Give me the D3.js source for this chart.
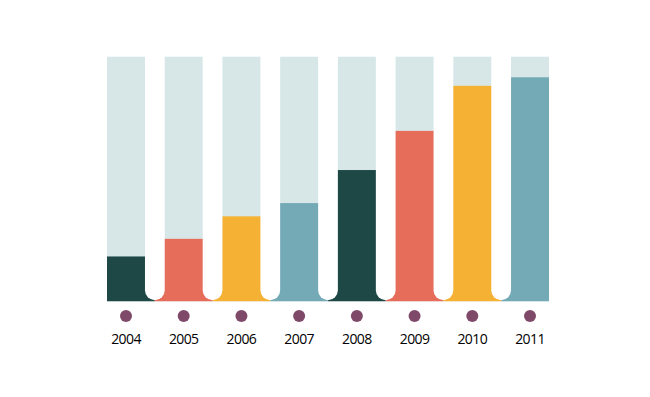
<!DOCTYPE html>
<html>
<head>
<meta charset="utf-8">
<script src="https://cdn.jsdelivr.net/npm/d3@7"></script>
<style>
  body { margin: 0; background: #fff; }
</style>
</head>
<body>
<div id="chart-div"></div>
<script>
// data (share of full column, 0-100)
const years = ["2004", "2005", "2006", "2007", "2008", "2009", "2010", "2011"];
const values = [18.4, 25.6, 34.8, 40.2, 53.7, 69.7, 88.1, 91.6];
const colors = ["#1e4846", "#e76d5b", "#f5b134", "#74aab6", "#1e4846", "#e76d5b", "#f5b134", "#74aab6"];

const width = 650;
const height = 397;
const plotLeft = 107, plotRight = 549;
const baseY = 301.5, topY = 56.7;

const xScale = d3.scaleBand().domain(years).range([plotLeft, plotRight]).paddingInner(0.342).paddingOuter(0);
const yScale = d3.scaleLinear().domain([0, 100]).range([baseY, topY]);
const gap = xScale.step() - xScale.bandwidth();

const svg = d3.select("#chart-div")
              .append("svg")
              .attr("width", width)
              .attr("height", height);

svg.append("clipPath").attr("id", "area")
   .append("rect")
   .attr("x", plotLeft).attr("y", 0)
   .attr("width", plotRight - plotLeft).attr("height", baseY);

const g = svg.append("g").attr("clip-path", "url(#area)");

// light full-height columns, widened by half a gap each side
g.selectAll("rect.bg")
 .data(years)
 .enter()
 .append("rect")
 .attr("class", "bg")
 .attr("x", d => xScale(d) - gap / 2)
 .attr("y", yScale(100))
 .attr("width", xScale.step())
 .attr("height", yScale(0) - yScale(100))
 .attr("fill", "#d7e7e8");

// coloured value part
g.selectAll("rect.bar")
 .data(years)
 .enter()
 .append("rect")
 .attr("class", "bar")
 .attr("x", d => xScale(d) - gap / 2)
 .attr("y", (d, i) => yScale(values[i]))
 .attr("width", xScale.step())
 .attr("height", (d, i) => yScale(0) - yScale(values[i]))
 .attr("fill", (d, i) => colors[i]);

// white rounded gaps between columns
g.selectAll("rect.gap")
 .data(years.slice(1))
 .enter()
 .append("rect")
 .attr("class", "gap")
 .attr("x", d => xScale(d) - gap)
 .attr("y", 20)
 .attr("width", gap)
 .attr("height", baseY - 1.3 - 20)
 .attr("rx", gap / 2)
 .attr("fill", "#fff");

// dots + year labels
svg.selectAll("circle")
   .data(years)
   .enter()
   .append("circle")
   .attr("cx", d => xScale(d) + xScale.bandwidth() / 2)
   .attr("cy", 316)
   .attr("r", 6)
   .attr("fill", "#7f4a69");

svg.selectAll("text")
   .data(years)
   .enter()
   .append("text")
   .attr("x", d => xScale(d) + xScale.bandwidth() / 2)
   .attr("y", 343.5)
   .attr("text-anchor", "middle")
   .attr("font-family", "Open Sans, sans-serif")
   .attr("font-size", 14)
   .attr("letter-spacing", -0.6)
   .attr("fill", "#000")
   .text(d => d);
</script>
</body>
</html>
